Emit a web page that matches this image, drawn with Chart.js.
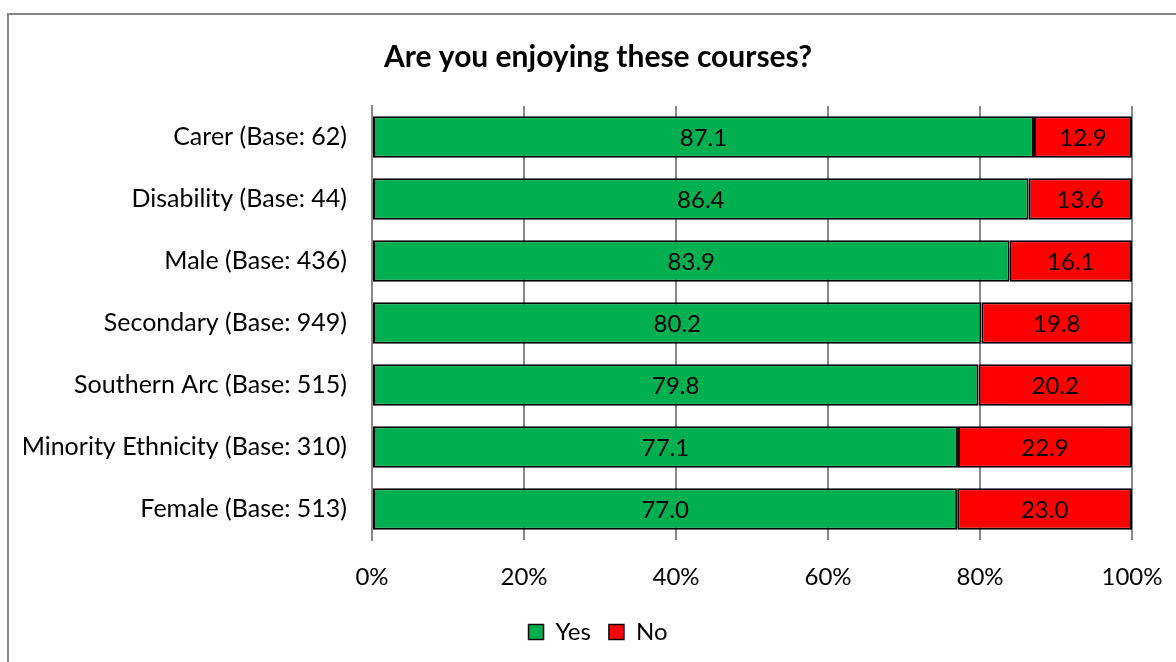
<!DOCTYPE html>
<html>
<head>
<meta charset="utf-8">
<script src="https://cdn.jsdelivr.net/npm/chart.js@4.4.0/dist/chart.umd.min.js"></script>
<style>
  html, body { margin: 0; padding: 0; background: #fff; overflow: hidden; }
  #frame { position: absolute; left: 7px; top: 13px; width: 1300px; height: 800px; border: 2px solid #888; }
  #chart { position: absolute; left: 0; top: 0; }
</style>
</head>
<body>
<div id="frame"></div>
<canvas id="chart" width="1176" height="662"></canvas>
<script>
// categories top to bottom
const categories = [
  "Carer (Base: 62)",
  "Disability (Base: 44)",
  "Male (Base: 436)",
  "Secondary (Base: 949)",
  "Southern Arc (Base: 515)",
  "Minority Ethnicity (Base: 310)",
  "Female (Base: 513)"
];
const yesValues = [87.1, 86.4, 83.9, 80.2, 79.8, 77.1, 77.0];
const noValues = [12.9, 13.6, 16.1, 19.8, 20.2, 22.9, 23.0];
const tickValues = [0, 20, 40, 60, 80, 100];

const FONT = "Lato, 'Open Sans', sans-serif";

// draws the value inside each bar segment
const segmentLabels = {
  id: "segmentLabels",
  afterDatasetsDraw(chart) {
    const ctx = chart.ctx;
    ctx.save();
    ctx.font = "24px " + FONT;
    ctx.fillStyle = "#000";
    ctx.textAlign = "center";
    ctx.textBaseline = "middle";
    chart.data.datasets.forEach((ds, i) => {
      chart.getDatasetMeta(i).data.forEach((bar, j) => {
        const p = bar.getProps(["x", "y", "base"], true);
        ctx.fillText(ds.data[j].toFixed(1), (p.x + p.base) / 2, p.y + 1);
      });
    });
    ctx.restore();
  }
};

// left padding is there to centre title/legend, but the long category
// labels must not get clipped by it
const widenLabelArea = {
  id: "widenLabelArea",
  beforeDraw(chart) {
    chart.scales.y.left = 0;
  }
};

new Chart(document.getElementById("chart"), {
  type: "bar",
  data: {
    labels: categories,
    datasets: [
      {
        label: "Yes",
        data: yesValues,
        backgroundColor: "#00B050",
        borderColor: "#000",
        borderWidth: 2,
        borderSkipped: false,
        categoryPercentage: 1,
        barPercentage: 0.667
      },
      {
        label: "No",
        data: noValues,
        backgroundColor: "#FF0000",
        borderColor: "#000",
        borderWidth: 2,
        borderSkipped: false,
        categoryPercentage: 1,
        barPercentage: 0.667
      }
    ]
  },
  options: {
    indexAxis: "y",
    responsive: false,
    animation: false,
    layout: { padding: { left: 64, right: 44, top: 0, bottom: 8 } },
    plugins: {
      title: {
        display: true,
        text: "Are you enjoying these courses?",
        color: "#000",
        font: { family: FONT, size: 30, weight: "bold" },
        padding: { top: 39, bottom: 31 }
      },
      legend: {
        position: "bottom",
        labels: {
          color: "#000",
          font: { family: FONT, size: 24 },
          boxWidth: 15,
          boxHeight: 15,
          padding: 18,
          generateLabels(chart) {
            return chart.data.datasets.map((ds, i) => ({
              text: ds.label,
              fillStyle: ds.backgroundColor,
              strokeStyle: "#000",
              lineWidth: 1.5,
              fontColor: "#000",
              datasetIndex: i
            }));
          }
        }
      },
      tooltip: { enabled: false }
    },
    scales: {
      x: {
        stacked: true,
        min: 0,
        max: 100,
        afterBuildTicks(axis) {
          axis.ticks = tickValues.map(v => ({ value: v }));
        },
        afterFit(axis) {
          axis.height = 62;
          axis.paddingLeft = 0;
          axis.paddingRight = 0;
        },
        ticks: {
          color: "#000",
          font: { family: FONT, size: 24 },
          padding: 23,
          callback: v => v + "%"
        },
        grid: { color: "#888", lineWidth: 2, drawTicks: false },
        border: { display: false }
      },
      y: {
        stacked: true,
        afterFit(axis) {
          axis.width = 308;
          axis.paddingTop = 0;
          axis.paddingBottom = 0;
        },
        ticks: {
          color: "#000",
          font: { family: FONT, size: 25 },
          padding: 25
        },
        grid: { display: false, drawTicks: false },
        border: { display: true, color: "#888", width: 2 }
      }
    }
  },
  plugins: [segmentLabels, widenLabelArea]
});
</script>
</body>
</html>
